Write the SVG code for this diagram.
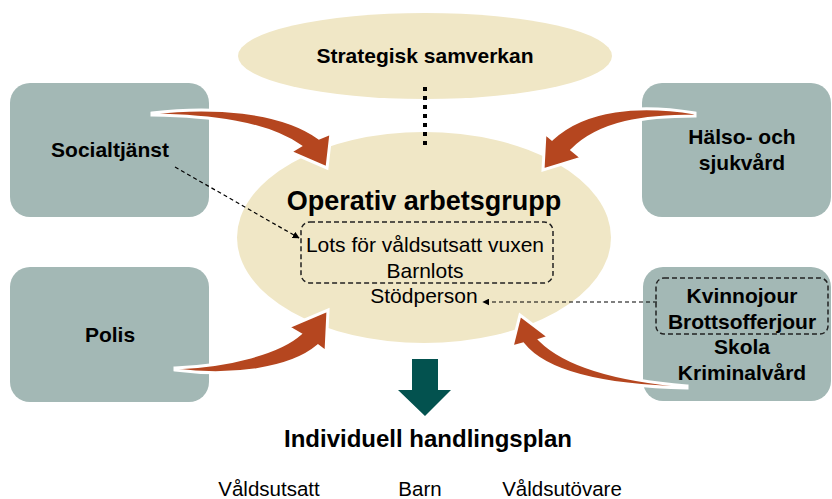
<svg xmlns="http://www.w3.org/2000/svg" width="832" height="499" viewBox="0 0 832 499">
<defs>
<style>
.box{fill:#a3b8b5}
.ell{fill:#f0e7c6}
.b{font-family:"Liberation Sans",Arial,sans-serif;font-weight:bold;font-size:21px;fill:#000;text-anchor:middle}
.r{font-family:"Liberation Sans",Arial,sans-serif;font-size:21px;fill:#000;text-anchor:middle}
.dash{fill:none;stroke:#222;stroke-width:1.5;stroke-dasharray:5 3}
.dl{fill:none;stroke:#000;stroke-width:1.2;stroke-dasharray:4 3}
.curve{fill:#b5461f;stroke:#fff;stroke-width:3;stroke-linejoin:miter}
</style>
<marker id="ah" viewBox="0 0 10 10" refX="9" refY="5" markerWidth="7" markerHeight="7" markerUnits="userSpaceOnUse" orient="auto">
<path d="M0,0 L10,5 L0,10 z" fill="#000"/>
</marker>
</defs>
<rect width="832" height="499" fill="#fff"/>

<g id="strategisk">
<ellipse class="ell" cx="425" cy="56" rx="187" ry="43"/>
<text class="b" x="425" y="63">Strategisk samverkan</text>
</g>

<g id="operativ">
<ellipse class="ell" cx="424" cy="237.5" rx="187" ry="105.5"/>
<text class="b" x="424" y="210" style="font-size:27px">Operativ arbetsgrupp</text>
<rect class="dash" x="301" y="222" width="252" height="61" rx="9"/>
<text class="r" x="425" y="252">Lots för våldsutsatt vuxen</text>
<text class="r" x="425" y="278">Barnlots</text>
<text class="r" x="424" y="303">Stödperson</text>
</g>

<g id="socialtjanst">
<rect class="box" x="10" y="83" width="199" height="134" rx="20"/>
<text class="b" x="110" y="157">Socialtjänst</text>
</g>

<g id="halso">
<rect class="box" x="642" y="83" width="189" height="134" rx="20"/>
<text class="b" x="742" y="144">Hälso- och</text>
<text class="b" x="742" y="170">sjukvård</text>
</g>

<g id="polis">
<rect class="box" x="10" y="267" width="199" height="135" rx="20"/>
<text class="b" x="110" y="342">Polis</text>
</g>

<g id="ovriga">
<rect class="box" x="643" y="267" width="188" height="134" rx="20"/>
<rect class="dash" x="656" y="278" width="172" height="56" rx="8"/>
<text class="b" x="742" y="303">Kvinnojour</text>
<text class="b" x="742" y="329">Brottsofferjour</text>
<text class="b" x="742" y="354">Skola</text>
<text class="b" x="742" y="380">Kriminalvård</text>
</g>

<g id="connectors">
<line x1="425" y1="87" x2="425" y2="150" stroke="#000" stroke-width="4" stroke-dasharray="4 5"/>
<path class="curve" d="M152,113 C210,106 280,110 319,138 L331,133 L327,168 L290,152 L300,146 C265,122 210,116 152,115 Z"/>
<path class="curve" d="M695,113 C640,104 585,108 552,139 L545,133 L543,170 L582,158 L572,150 C600,122 645,116 695,116 Z"/>
<path class="curve" d="M175,370 C230,377 290,370 318,346 L326,352 L328,310 L288,327 L300,334 C280,352 230,366 175,368 Z"/>
<path class="curve" d="M687,386 C615,380 565,365 540,340 L549,337 L520,315 L512,347 L523,344 C545,372 600,386 687,388 Z"/>
<path class="dl" d="M175,167 L299,238" marker-end="url(#ah)"/>
<path class="dl" d="M657,302 L483,302" marker-end="url(#ah)"/>
<polygon points="412,359 438,359 438,390 451,390 425,416 398,390 412,390" fill="#03524f"/>
</g>

<g id="plan">
<text class="b" x="428" y="447" style="font-size:24px">Individuell handlingsplan</text>
<text class="r" x="269" y="496" style="font-size:20.5px">Våldsutsatt</text>
<text class="r" x="420" y="496" style="font-size:20.5px">Barn</text>
<text class="r" x="562" y="496" style="font-size:20.5px">Våldsutövare</text>
</g>
</svg>
